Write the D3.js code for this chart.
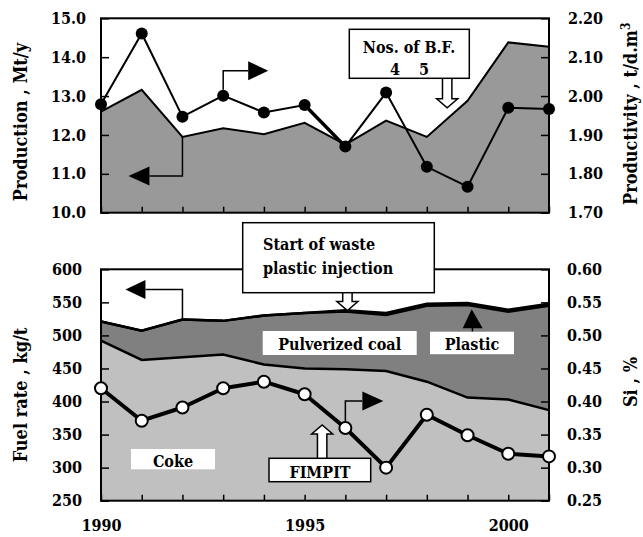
<!DOCTYPE html>
<html>
<head>
<meta charset="utf-8">
<script src="https://cdn.jsdelivr.net/npm/d3@7"></script>
<style>
  body { margin: 0; background: #fff; }
  svg { display: block; }
  text { font-family: "DejaVu Serif Condensed", "DejaVu Serif", serif; font-stretch: condensed; font-weight: bold; font-size: 16px; fill: #000; }
  text.title { font-size: 18px; }
</style>
</head>
<body>
<div id="chart"></div>
<script>
// years on the shared x axis
var years = [1990, 1991, 1992, 1993, 1994, 1995, 1996, 1997, 1998, 1999, 2000, 2001];
var yearLabels = [1990, 1995, 2000];

// upper panel
var productionMt = [12.60, 13.16, 11.95, 12.17, 12.02, 12.31, 11.75, 12.37, 11.95, 12.88, 14.38, 14.27];
var productivity = [1.979, 2.161, 1.947, 2.001, 1.958, 1.977, 1.870, 2.009, 1.818, 1.767, 1.970, 1.967];
var prodTicks = [10, 11, 12, 13, 14, 15];
var prtyTicks = [1.70, 1.80, 1.90, 2.00, 2.10, 2.20];

// lower panel (kg/t)
var cokeRate    = [492, 463, 467, 471, 456, 450, 449, 446, 430, 406, 403, 387];
var pcRate      = [29, 44, 57, 51, 74, 84, 87, 85, 115, 140, 133, 158];
var plasticRate = [0, 0, 0, 0, 0, 0, 2, 3, 3, 3, 3, 3];
var siPct       = [0.420, 0.371, 0.391, 0.420, 0.430, 0.411, 0.360, 0.300, 0.380, 0.349, 0.321, 0.317];
var fuelTicks = [250, 300, 350, 400, 450, 500, 550, 600];
var siTicks = [0.25, 0.30, 0.35, 0.40, 0.45, 0.50, 0.55, 0.60];

var W = 643, H = 537;
var svg = d3.select("#chart").append("svg").attr("width", W).attr("height", H);

var x = d3.scaleLinear().domain([1990, 2001]).range([101, 549]);

// ---------- upper panel ----------
var top0 = 18.3, top1 = 212.7;
var yProd = d3.scaleLinear().domain([10, 15]).range([top1, top0]);
var yPrty = d3.scaleLinear().domain([1.7, 2.2]).range([top1, top0]);

var up = svg.append("g");
up.append("rect").attr("x", x(1990)).attr("y", top0).attr("width", x(2001) - x(1990)).attr("height", top1 - top0).attr("fill", "#fff");

up.append("path")
  .datum(years)
  .attr("fill", "#999999")
  .attr("d", d3.area().x(function(d) { return x(d); }).y0(top1).y1(function(d, i) { return yProd(productionMt[i]); }));
up.append("path")
  .datum(years)
  .attr("fill", "none").attr("stroke", "#000").attr("stroke-width", 2)
  .attr("d", d3.line().x(function(d) { return x(d); }).y(function(d, i) { return yProd(productionMt[i]); }));

up.append("path")
  .datum(years)
  .attr("fill", "none").attr("stroke", "#000").attr("stroke-width", 2)
  .attr("d", d3.line().x(function(d) { return x(d); }).y(function(d, i) { return yPrty(productivity[i]); }));
// the 1995-96 segment is drawn heavier in the original
up.append("path")
  .datum([5, 6])
  .attr("fill", "none").attr("stroke", "#000").attr("stroke-width", 3.5)
  .attr("d", d3.line().x(function(i) { return x(years[i]); }).y(function(i) { return yPrty(productivity[i]); }));
up.selectAll("circle.pr").data(years).enter().append("circle")
  .attr("cx", function(d) { return x(d); })
  .attr("cy", function(d, i) { return yPrty(productivity[i]); })
  .attr("r", 6).attr("fill", "#000");

// axes (inward ticks)
up.append("g").attr("transform", "translate(" + x(1990) + ",0)")
  .call(d3.axisLeft(yProd).tickValues(prodTicks).tickFormat(d3.format(".1f")).tickSize(-8).tickPadding(15));
up.append("g").attr("transform", "translate(" + x(2001) + ",0)")
  .call(d3.axisRight(yPrty).tickValues(prtyTicks).tickFormat(d3.format(".2f")).tickSize(-8).tickPadding(19));
up.append("g").attr("transform", "translate(0," + top1 + ")")
  .call(d3.axisBottom(x).tickValues(years).tickFormat("").tickSize(-6));

// frame
up.append("rect").attr("x", x(1990)).attr("y", top0).attr("width", x(2001) - x(1990)).attr("height", top1 - top0)
  .attr("fill", "none").attr("stroke", "#000").attr("stroke-width", 2);

// ---------- lower panel ----------
var bot0 = 269.3, bot1 = 500.7;
var yFuel = d3.scaleLinear().domain([250, 600]).range([bot1, bot0]);
var ySi = d3.scaleLinear().domain([0.25, 0.60]).range([bot1, bot0]);

var lo = svg.append("g");
lo.append("rect").attr("x", x(1990)).attr("y", bot0).attr("width", x(2001) - x(1990)).attr("height", bot1 - bot0).attr("fill", "#fff");

var table = years.map(function(y, i) { return { year: y, coke: cokeRate[i], pc: pcRate[i], plastic: plasticRate[i] }; });
var stack = d3.stack().keys(["coke", "pc", "plastic"])(table);
var fills = { coke: "#c0c0c0", pc: "#808080", plastic: "#000" };
var area = d3.area()
  .x(function(d) { return x(d.data.year); })
  .y0(function(d) { return yFuel(Math.max(d[0], 250)); })
  .y1(function(d) { return yFuel(d[1]); });
lo.selectAll("path.layer").data(stack).enter().append("path")
  .attr("class", "layer")
  .attr("fill", function(s) { return fills[s.key]; })
  .attr("d", area);
var edge = d3.line().x(function(d) { return x(d.data.year); }).y(function(d) { return yFuel(d[1]); });
lo.selectAll("path.edge").data(stack).enter().append("path")
  .attr("fill", "none").attr("stroke", "#000").attr("stroke-width", 2.5)
  .attr("d", edge);

lo.append("path")
  .datum(years)
  .attr("fill", "none").attr("stroke", "#000").attr("stroke-width", 4).attr("stroke-linejoin", "round")
  .attr("d", d3.line().x(function(d) { return x(d); }).y(function(d, i) { return ySi(siPct[i]); }));

lo.append("g").attr("transform", "translate(" + x(1990) + ",0)")
  .call(d3.axisLeft(yFuel).tickValues(fuelTicks).tickFormat(d3.format("d")).tickSize(-8).tickPadding(19));
lo.append("g").attr("transform", "translate(" + x(2001) + ",0)")
  .call(d3.axisRight(ySi).tickValues(siTicks).tickFormat(d3.format(".2f")).tickSize(-8).tickPadding(18));
lo.append("g").attr("transform", "translate(0," + bot1 + ")")
  .call(d3.axisBottom(x).tickValues(years).tickSize(-6).tickPadding(19)
    .tickFormat(function(d) { return yearLabels.indexOf(d) >= 0 ? d : ""; }));

lo.append("rect").attr("x", x(1990)).attr("y", bot0).attr("width", x(2001) - x(1990)).attr("height", bot1 - bot0)
  .attr("fill", "none").attr("stroke", "#000").attr("stroke-width", 2);

lo.selectAll("circle.si").data(years).enter().append("circle")
  .attr("cx", function(d) { return x(d); })
  .attr("cy", function(d, i) { return ySi(siPct[i]); })
  .attr("r", 6).attr("fill", "#fff").attr("stroke", "#000").attr("stroke-width", 2);

// axis styling
svg.selectAll(".domain").remove();
svg.selectAll(".tick line").attr("stroke", "#000").attr("stroke-width", 1.5);
svg.selectAll(".tick text").attr("font-family", null).attr("font-size", null);

// ---------- annotations ----------
var ann = svg.append("g");

function box(x0, y0, w, h) {
  ann.append("rect").attr("x", x0).attr("y", y0).attr("width", w).attr("height", h)
    .attr("fill", "#fff").attr("stroke", "#000").attr("stroke-width", 1.5);
}
function label(t, cx, by, anchor) {
  ann.append("text").attr("x", cx).attr("y", by).attr("text-anchor", anchor || "middle").text(t);
}
// elbow arrow with filled head: from (ax,ay) vertical by dy, then horizontal by dx, head length hl
function elbow(ax, ay, dy, dx, hl) {
  var ey = ay + dy, ex = ax + dx, s = dx > 0 ? 1 : -1;
  ann.append("path").attr("d", "M" + ax + "," + ay + "V" + ey + "H" + ex)
    .attr("fill", "none").attr("stroke", "#000").attr("stroke-width", 1.5);
  ann.append("path").attr("d", "M" + ex + "," + (ey - 9.5) + "L" + (ex + s * hl) + "," + ey + "L" + ex + "," + (ey + 9.5) + "Z")
    .attr("fill", "#000");
}
// hollow block arrow, dir = 1 down, -1 up
function hollow(cx, y0, y1, dir) {
  var hw = 4.7, hh = 10.5, base = y1 - dir * 9;
  ann.append("path")
    .attr("d", "M" + (cx - hw) + "," + y0 + "V" + base + "H" + (cx - hh) + "L" + cx + "," + y1 +
      "L" + (cx + hh) + "," + base + "H" + (cx + hw) + "V" + y0)
    .attr("fill", "#fff").attr("stroke", "#000").attr("stroke-width", 1.5);
}

elbow(x(1993), yPrty(productivity[3]) - 6, -19, 25, 20);
elbow(x(1992), yProd(productionMt[2]), 39, -33, 21);
elbow(x(1992), yFuel(cokeRate[2] + pcRate[2]), -30, -37, 20);
elbow(x(1996), ySi(siPct[6]) - 6, -21, 17, 21);

// Nos. of B.F.
hollow(x(1998.5), 78.3, 107.7, 1);
box(349.3, 29.3, 120, 49);
label("Nos. of B.F.", 409, 53);
label("4", 395, 75);
label("5", 424, 75);

// start of waste plastic injection
hollow(x(1996.05), 292.7, 310.5, 1);
box(242.7, 222.7, 191.6, 70);
label("Start of waste", 263, 250, "start");
label("plastic injection", 263, 274, "start");

// layer names
ann.append("rect").attr("x", 262.7).attr("y", 331).attr("width", 154).attr("height", 24).attr("fill", "#fff");
label("Pulverized coal", 339.7, 349.5);
ann.append("path").attr("d", "M" + x(1999.12) + ",331.7V326").attr("stroke", "#000").attr("stroke-width", 1.5);
ann.append("path").attr("d", "M462.7,328.3L471.7,309.3L482.7,328.3Z").attr("fill", "#000");
ann.append("rect").attr("x", 430).attr("y", 331.7).attr("width", 84).attr("height", 22.5).attr("fill", "#fff");
label("Plastic", 472, 349.5);
ann.append("rect").attr("x", 131).attr("y", 449).attr("width", 84).attr("height", 20.3).attr("fill", "#fff");
label("Coke", 173, 467);

// FIMPIT
hollow(x(1995.43), 458.3, 425, -1);
box(269, 458.3, 101.7, 23.4);
label("FIMPIT", 320, 477.5);

// axis titles
function vtitle(parent, cx, cy, anchor) {
  return parent.append("text").attr("class", "title")
    .attr("transform", "translate(" + cx + "," + cy + ") rotate(-90)").attr("text-anchor", anchor);
}
vtitle(svg, 27, 122, "middle").text("Production , Mt/y");
vtitle(svg, 27, 395, "middle").text("Fuel rate , kg/t");
var pt = vtitle(svg, 637, 205, "start");
pt.append("tspan").text("Productivity , t/d.m");
pt.append("tspan").attr("baseline-shift", "super").attr("font-size", "12px").text("3");
vtitle(svg, 637, 382, "middle").text("Si , %");
</script>
</body>
</html>
